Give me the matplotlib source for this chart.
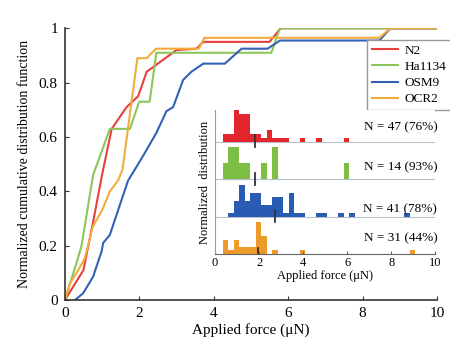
import numpy as np
import matplotlib
matplotlib.use('Agg')
import matplotlib.pyplot as plt

plt.rcParams['font.family'] = ['Liberation Serif', 'DejaVu Serif']

strains = ['N2', 'Ha1134', 'OSM9', 'OCR2']
n_labels = ['N = 47 (76%)', 'N = 14 (93%)', 'N = 41 (78%)', 'N = 31 (44%)']
line_colors = ['#e8403c', '#8cc65a', '#3461b5', '#f2ac3c']
bar_colors = ['#e3262b', '#7dbf45', '#2a5bb3', '#ee9a2b']

# cumulative distribution curves (force in uN, fraction)
n2_x = [0, 0.5, 0.75, 1.0, 1.26, 1.66, 1.97, 2.2, 2.5, 3.0, 3.54, 3.72, 5.5, 5.8, 10]
n2_y = [0, 0.11, 0.28, 0.46, 0.63, 0.71, 0.75, 0.84, 0.87, 0.92, 0.925, 0.95, 0.95, 1.0, 1.0]
ha_x = [0, 0.3, 0.45, 0.76, 1.21, 1.75, 2.0, 2.28, 2.46, 5.55, 5.78, 10]
ha_y = [0, 0.13, 0.2, 0.46, 0.63, 0.63, 0.73, 0.73, 0.91, 0.91, 1.0, 1.0]
osm_x = [0.27, 0.49, 0.76, 0.99, 1.03, 1.21, 1.7, 1.88, 2.1, 2.46, 2.73, 2.91, 3.18, 3.4,
         3.72, 4.3, 4.75, 5.45, 5.78, 8.45, 8.75, 10]
osm_y = [0, 0.025, 0.086, 0.18, 0.21, 0.24, 0.44, 0.48, 0.53, 0.615, 0.695, 0.71, 0.81, 0.84,
         0.87, 0.87, 0.925, 0.925, 0.955, 0.955, 1.0, 1.0]
ocr_x = [0, 0.13, 0.36, 0.54, 0.75, 1.0, 1.21, 1.43, 1.55, 1.95, 2.2, 2.45, 3.6, 3.75, 8.45, 8.75, 10]
ocr_y = [0, 0.06, 0.11, 0.155, 0.27, 0.33, 0.4, 0.44, 0.48, 0.89, 0.89, 0.925, 0.925, 0.965, 0.965, 1.0, 1.0]

# histograms: left bin edges (width 0.25 uN) and counts
n2_bins = [0.35, 0.6, 0.85, 1.1, 1.35, 1.6, 1.85, 2.1, 2.35, 2.6, 2.85, 3.1, 3.85, 4.6, 5.85]
n2_counts = [2, 2, 8, 7, 7, 2, 2, 1, 3, 1, 1, 1, 1, 1, 1]
ha_bins = [0.35, 0.6, 0.85, 1.1, 1.35, 2.1, 2.6, 5.85]
ha_counts = [1, 2, 2, 1, 1, 1, 2, 1]
osm_bins = [0.6, 0.85, 1.1, 1.35, 1.6, 1.85, 2.1, 2.35, 2.6, 2.85, 3.1, 3.35, 3.6, 3.85,
            4.6, 4.85, 5.6, 6.1, 8.6]
osm_counts = [1, 4, 8, 4, 6, 6, 3, 3, 5, 5, 1, 6, 1, 1, 1, 1, 1, 1, 1]
ocr_bins = [0.35, 0.6, 0.85, 1.1, 1.35, 1.6, 1.85, 2.1, 2.6, 3.85, 8.85]
ocr_counts = [4, 1, 4, 2, 2, 2, 9, 5, 1, 1, 1]
medians = [1.82, 1.8, 2.7, 1.95]

curves = [(n2_x, n2_y), (ha_x, ha_y), (osm_x, osm_y), (ocr_x, ocr_y)]
hists = [(n2_bins, n2_counts), (ha_bins, ha_counts), (osm_bins, osm_counts), (ocr_bins, ocr_counts)]

fig = plt.figure(figsize=(4.5, 3.45), dpi=100)
ax = fig.add_axes([0.144, 0.13, 0.827, 0.788])
for (x, y), lab, c in zip(curves, strains, line_colors):
    ax.plot(x, y, color=c, lw=1.5, label=lab)
ax.set_xlim(0, 10)
ax.set_ylim(0, 1)
ax.set_xticks([0, 2, 4, 6, 8, 10])
ax.set_yticks([0, 0.2, 0.4, 0.6, 0.8, 1])
ax.set_yticklabels(['0', '0.2', '0.4', '0.6', '0.8', '1'])
for s in ['top', 'right']:
    ax.spines[s].set_visible(False)
for s in ['left', 'bottom']:
    ax.spines[s].set_color('#333333')
    ax.spines[s].set_linewidth(1.2)
ax.tick_params(direction='in', length=3, labelsize=11, pad=5, color='#333333')
ax.set_xlabel('Applied force (μN)', fontsize=11, labelpad=2)
ax.set_ylabel('Normalized cumulative distribution function', fontsize=10, labelpad=6)
ax.legend(loc='upper left', bbox_to_anchor=(0.816, 0.884), bbox_transform=fig.transFigure,
          borderaxespad=0, fontsize=9.5, fancybox=False, edgecolor='#999999', framealpha=1,
          handlelength=2.0, handletextpad=0.5, borderpad=0.35, labelspacing=0.3)

# inset with stacked histograms
ins = fig.add_axes([0.478, 0.264, 0.489, 0.417])
text_off = [0.38, 0.33, 0.2, 0.42]
for i in range(4):
    row = 3 - i
    bins, counts = hists[i]
    h = np.array(counts) / max(counts) * 0.85
    ins.bar(bins, h, width=0.25, align='edge', bottom=row, color=bar_colors[i], lw=0)
    if row > 0:
        ins.axhline(row, color='#b8bfcc', lw=0.8, zorder=0)
    ins.plot([medians[i], medians[i]], [row - 0.15, row + 0.17], color='#333333', lw=1.3)
    ins.text(10.1, row + text_off[i], n_labels[i], ha='right', va='center', fontsize=9.5)
ins.set_xlim(0, 10)
ins.set_ylim(0, 3.85)
ins.set_yticks([])
ins.set_xticks([0, 2, 4, 6, 8, 10])
for s in ['top', 'right']:
    ins.spines[s].set_visible(False)
ins.spines['left'].set_color('#999999')
ins.spines['bottom'].set_color('#666666')
ins.tick_params(direction='in', length=2, labelsize=9, pad=2, color='#666666')
ins.set_xlabel('Applied force (μN)', fontsize=9, labelpad=1)
ins.set_ylabel('Normalized  distribution', fontsize=9, labelpad=3)

fig.savefig('out.png', dpi=100)
